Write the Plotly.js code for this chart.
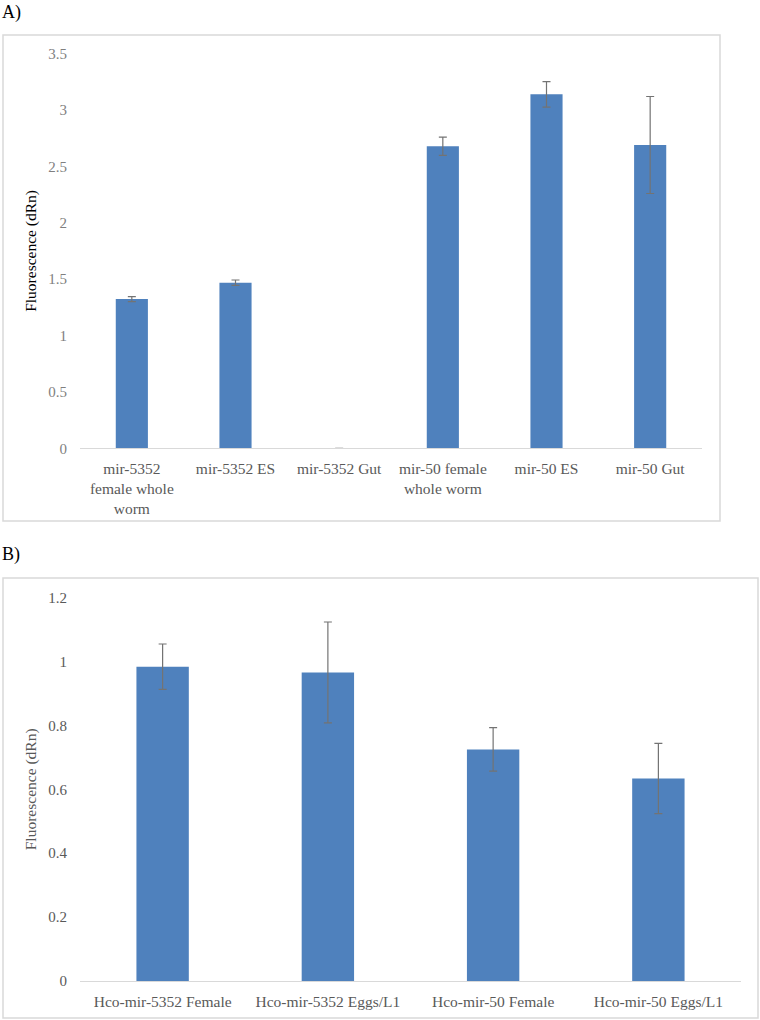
<!DOCTYPE html>
<html>
<head>
<meta charset="utf-8">
<script src="https://cdn.plot.ly/plotly-3.0.1.min.js"></script>
<style>html,body{margin:0;padding:0;background:#fff;}#chart{width:760px;height:1020px;}</style>
</head>
<body>
<div id="chart"></div>
<script>
// Panel A data
const catsA = ["mir-5352<br>female whole<br>worm", "mir-5352 ES", "mir-5352 Gut", "mir-50 female<br>whole worm", "mir-50 ES", "mir-50 Gut"];
const valsA = [1.323, 1.468, 0, 2.677, 3.138, 2.689];
const errA  = [0.022, 0.024, 0, 0.081, 0.113, 0.43];
const ticksA = [0, 0.5, 1, 1.5, 2, 2.5, 3, 3.5];
const tickTextA = ["0", "0.5", "1", "1.5", "2", "2.5", "3", "3.5"];

// Panel B data
const catsB = ["Hco-mir-5352 Female", "Hco-mir-5352 Eggs/L1", "Hco-mir-50 Female", "Hco-mir-50 Eggs/L1"];
const valsB = [0.984, 0.966, 0.725, 0.634];
const errB  = [0.071, 0.158, 0.068, 0.11];
const ticksB = [0, 0.2, 0.4, 0.6, 0.8, 1, 1.2];
const tickTextB = ["0", "0.2", "0.4", "0.6", "0.8", "1", "1.2"];

const W = 760, H = 1020;
const FONT = "Liberation Serif, Times New Roman, serif";
const BAR = "#4f81bd";
const GREY = "#595959";
const BORDER = "#d9d9d9";

const px = v => v / W;
const py = v => 1 - v / H;

const traces = [
  {
    type: "bar", x: catsA, y: valsA, xaxis: "x", yaxis: "y",
    marker: {color: BAR}, width: 0.31,
    error_y: {type: "data", array: errA, visible: true, color: "#737373", thickness: 1.2, width: 4},
    hoverinfo: "x+y", showlegend: false
  },
  {
    type: "bar", x: catsB, y: valsB, xaxis: "x2", yaxis: "y2",
    marker: {color: BAR}, width: 0.317,
    error_y: {type: "data", array: errB, visible: true, color: "#737373", thickness: 1.2, width: 4},
    hoverinfo: "x+y", showlegend: false
  }
];

const layout = {
  width: W, height: H,
  margin: {l: 0, r: 0, t: 0, b: 0},
  paper_bgcolor: "#fff", plot_bgcolor: "rgba(0,0,0,0)",
  font: {family: FONT, color: GREY, size: 15},
  showlegend: false,
  xaxis: {
    domain: [px(80), px(702)], anchor: "y",
    showline: true, linecolor: BORDER, linewidth: 1,
    ticks: "", showgrid: false, zeroline: false,
    tickfont: {family: FONT, size: 15.5, color: GREY},
    ticklabelstandoff: 6, fixedrange: true
  },
  yaxis: {
    domain: [py(448.3), py(53.5)], anchor: "x",
    range: [0, 3.5], tickvals: ticksA, ticktext: tickTextA,
    showline: false, showgrid: false, zeroline: false, ticks: "",
    tickfont: {family: FONT, size: 15, color: "#7f7f7f"},
    ticklabelstandoff: 12,
    title: {text: "Fluorescence (dRn)", font: {family: FONT, size: 15.5, color: "#000"}, standoff: 7},
    fixedrange: true
  },
  xaxis2: {
    domain: [px(80), px(741)], anchor: "y2",
    showline: true, linecolor: BORDER, linewidth: 1,
    ticks: "", showgrid: false, zeroline: false,
    tickfont: {family: FONT, size: 15.5, color: GREY},
    ticklabelstandoff: 6, fixedrange: true
  },
  yaxis2: {
    domain: [py(981), py(597.7)], anchor: "x2",
    range: [0, 1.2], tickvals: ticksB, ticktext: tickTextB,
    showline: false, showgrid: false, zeroline: false, ticks: "",
    tickfont: {family: FONT, size: 15, color: GREY},
    ticklabelstandoff: 12,
    title: {text: "Fluorescence (dRn)", font: {family: FONT, size: 15.5, color: GREY}, standoff: 7},
    fixedrange: true
  },
  shapes: [
    {type: "rect", xref: "paper", yref: "paper", x0: px(3), x1: px(720), y0: py(521), y1: py(35),
     line: {color: BORDER, width: 1.5}, fillcolor: "rgba(0,0,0,0)", layer: "below"},
    {type: "rect", xref: "paper", yref: "paper", x0: px(3), x1: px(758), y0: py(1018), y1: py(578),
     line: {color: BORDER, width: 1.5}, fillcolor: "rgba(0,0,0,0)", layer: "below"}
  ],
  annotations: [
    {text: "A)", xref: "paper", yref: "paper", x: 0, y: py(0), xanchor: "left", yanchor: "top",
     showarrow: false, font: {family: FONT, size: 18, color: "#000"}},
    {text: "B)", xref: "paper", yref: "paper", x: 0, y: py(542), xanchor: "left", yanchor: "top",
     showarrow: false, font: {family: FONT, size: 18, color: "#000"}}
  ]
};

Plotly.newPlot("chart", traces, layout, {displayModeBar: false, staticPlot: true});
</script>
</body>
</html>
